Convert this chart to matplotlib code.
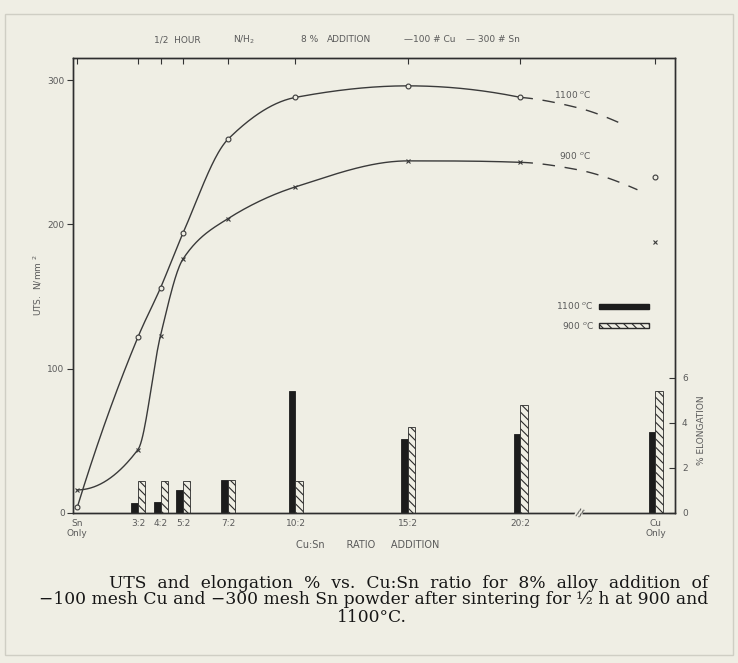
import numpy as np
import matplotlib
matplotlib.use("Agg")
import matplotlib.pyplot as plt
from matplotlib.patches import Rectangle, Patch

# ---------------- data ----------------
categories = ["Sn\nOnly", "3:2", "4:2", "5:2", "7:2", "10:2", "15:2", "20:2", "Cu\nOnly"]
x_pos = [0.3, 3, 4, 5, 7, 10, 15, 20, 26.0]          # Cu parts per 2 Sn (Cu only after axis break)

# UTS (N/mm^2) - alloyed compositions (Sn only .. 20:2)
uts_1100 = [4, 122, 156, 194, 259, 288, 296, 288]
uts_900 = [16, 44, 123, 176, 204, 226, 244, 243]
# Cu only points
uts_cu_1100 = 233
uts_cu_900 = 188
# dashed trend extension beyond 20:2
ext_x_1100 = [20, 22.5, 24.6]
ext_1100 = [288, 281, 269]
ext_x_900 = [20, 22.5, 25.2]
ext_900 = [243, 238, 224]

# % elongation bars (3:2 .. Cu only)
elong_1100 = [0.45, 0.5, 1.0, 1.45, 5.4, 3.3, 3.5, 3.6]
elong_900 = [1.4, 1.4, 1.4, 1.45, 1.4, 3.8, 4.8, 5.4]

uts_ticks = [0, 100, 200, 300]
elong_ticks = [0, 2, 4, 6]

PAPER = "#efeee4"
INK = "#3a3a3a"
TXT = "#5a5a5a"


def pchip(x, y, xs):
    x = np.asarray(x, float); y = np.asarray(y, float)
    h = np.diff(x); d = np.diff(y) / h
    n = len(x); m = np.zeros(n)
    for k in range(1, n - 1):
        if d[k - 1] * d[k] <= 0:
            m[k] = 0
        else:
            w1 = 2 * h[k] + h[k - 1]; w2 = h[k] + 2 * h[k - 1]
            m[k] = (w1 + w2) / (w1 / d[k - 1] + w2 / d[k])
    def end(h0, h1, d0, d1):
        v = ((2 * h0 + h1) * d0 - h0 * d1) / (h0 + h1)
        if np.sign(v) != np.sign(d0):
            v = 0
        elif np.sign(d0) != np.sign(d1) and abs(v) > abs(3 * d0):
            v = 3 * d0
        return v
    m[0] = end(h[0], h[1], d[0], d[1])
    m[-1] = end(h[-1], h[-2], d[-1], d[-2])
    idx = np.clip(np.searchsorted(x, xs) - 1, 0, n - 2)
    t = (xs - x[idx]) / h[idx]
    h00 = 2 * t**3 - 3 * t**2 + 1; h10 = t**3 - 2 * t**2 + t
    h01 = -2 * t**3 + 3 * t**2; h11 = t**3 - t**2
    return h00 * y[idx] + h10 * h[idx] * m[idx] + h01 * y[idx + 1] + h11 * h[idx] * m[idx + 1]


W, H = 738, 663
fig = plt.figure(figsize=(W / 100, H / 100), dpi=100, facecolor=PAPER)
plt.rcParams["font.family"] = ["DejaVu Sans"]
plt.rcParams["hatch.linewidth"] = 0.8

# frame of the scanned plate
fig.patches.append(Rectangle((5 / W, 1 - 655 / H), 728 / W, 641 / H, transform=fig.transFigure,
                             fill=False, edgecolor="#cfcec4", lw=1.0))

L, R, T, B = 73, 675, 58, 513
ax = fig.add_axes([L / W, 1 - B / H, (R - L) / W, (B - T) / H])
ax.set_facecolor(PAPER)
ax.set_xlim(0.11, 26.87)
ax.set_ylim(0, 315.3)

ax2 = ax.twinx()
ax2.set_ylim(0, 20.2)

# elongation bars
bx = np.array(x_pos[1:])
ax2.bar(bx, elong_1100, width=-0.3, align="edge", color="#1c1c1c", edgecolor="#1c1c1c", lw=0.6)
ax2.bar(bx, elong_900, width=0.33, align="edge", color=PAPER, edgecolor="#2a2a2a", lw=0.6,
        hatch="\\\\\\\\")

# UTS curves
xs_main = x_pos[:8]
xx = np.linspace(xs_main[0], xs_main[-1], 400)
ax.plot(xx, pchip(xs_main, uts_1100, xx), color=INK, lw=1.0, zorder=3)
ax.plot(xx, pchip(xs_main, uts_900, xx), color=INK, lw=1.0, zorder=3)
ax.plot(xs_main, uts_1100, ls="none", marker="o", ms=3.5, mfc=PAPER, mec=INK, mew=0.8, zorder=4)
ax.plot(xs_main, uts_900, ls="none", marker="x", ms=3.5, mec=INK, mew=0.8, zorder=4)

xe = np.linspace(ext_x_1100[0], ext_x_1100[-1], 100)
ax.plot(xe, pchip(ext_x_1100, ext_1100, xe), color=INK, lw=1.0, dashes=(9, 7), zorder=3)
xe = np.linspace(ext_x_900[0], ext_x_900[-1], 100)
ax.plot(xe, pchip(ext_x_900, ext_900, xe), color=INK, lw=1.0, dashes=(9, 7), zorder=3)

ax.plot([x_pos[-1]], [uts_cu_1100], ls="none", marker="o", ms=3.5, mfc=PAPER, mec=INK, mew=0.8)
ax.plot([x_pos[-1]], [uts_cu_900], ls="none", marker="x", ms=3.5, mec=INK, mew=0.8)

ax.text(21.5, 290, "1100 $^{o}$C", fontsize=6.5, color=TXT, va="center")
ax.text(21.7, 248, "900 $^{o}$C", fontsize=6.5, color=TXT, va="center")

# axes styling
for a in (ax, ax2):
    for s in a.spines.values():
        s.set_color("#2e2e2e"); s.set_linewidth(1.0)
ax.set_zorder(ax2.get_zorder() + 1)
ax.patch.set_visible(False)
ax2.patch.set_facecolor(PAPER)

ax.set_yticks(uts_ticks)
ax.tick_params(axis="y", direction="out", length=4, width=0.8, colors="#333", labelsize=6.5,
               labelcolor=TXT, pad=2)
ax.set_xticks(x_pos)
ax.set_xticklabels(categories)
ax.tick_params(axis="x", bottom=False, top=True, direction="in", length=4, width=0.8,
               labelsize=6.5, labelcolor=TXT, pad=4, colors="#333")
for lab in ax.get_xticklabels():
    lab.set_color(TXT)

ax2.set_yticks(elong_ticks)
ax2.tick_params(axis="y", direction="in", length=4, width=0.8, colors="#333", labelsize=6.5,
                labelcolor=TXT, pad=5)

# axis break mark
ax.text(22.6, 0, "//", fontsize=7, color=INK, ha="center", va="center", rotation=-20,
        bbox=dict(boxstyle="square,pad=0.05", fc=PAPER, ec="none"), zorder=5)

# legend
handles = [Patch(facecolor="#1c1c1c", edgecolor="#1c1c1c", label="1100 $^{o}$C"),
           Patch(facecolor=PAPER, edgecolor="#2a2a2a", hatch="\\\\\\\\", label="900 $^{o}$C")]
leg = ax.legend(handles=handles, loc="upper right", bbox_to_anchor=(0.97, 0.485), frameon=False,
                markerfirst=False, handlelength=5.5, handleheight=0.55, fontsize=6.5,
                labelspacing=0.9, handletextpad=0.6)
for t in leg.get_texts():
    t.set_color(TXT)

# axis labels
fig.text(38 / W, 1 - 285 / H, "UTS.  N/mm $^2$", rotation=90, fontsize=6.5, color=TXT,
         ha="center", va="center")
fig.text(701 / W, 1 - 430 / H, "% ELONGATION", rotation=90, fontsize=6.5, color=TXT,
         ha="center", va="center")
fig.text(368 / W, 1 - 545 / H, "Cu:Sn       RATIO     ADDITION", fontsize=7, color=TXT,
         ha="center", va="center")

# header line
hdr = [(177, "1/2  HOUR"), (244, "N/H$_2$"), (310, "8 %"), (349, "ADDITION"),
       (430, "\u2014100 # Cu"), (493, "\u2014 300 # Sn")]
for px, s in hdr:
    fig.text(px / W, 1 - 40 / H, s, fontsize=6.5, color=TXT, ha="center", va="center")

# caption
cap_font = dict(family="DejaVu Serif", fontsize=12.3, color="#161616")
fig.text(708 / W, 1 - 583 / H,
         "UTS  and  elongation  %  vs.  Cu:Sn  ratio  for  8%  alloy  addition  of",
         ha="right", va="center", **cap_font)
fig.text(708 / W, 1 - 600 / H,
         "\u2212100 mesh Cu and \u2212300 mesh Sn powder after sintering for \u00bd h at 900 and",
         ha="right", va="center", **cap_font)
fig.text(372 / W, 1 - 617 / H, "1100\u00b0C.", ha="center", va="center", **cap_font)

fig.savefig("out.png", dpi=100, facecolor=PAPER)
